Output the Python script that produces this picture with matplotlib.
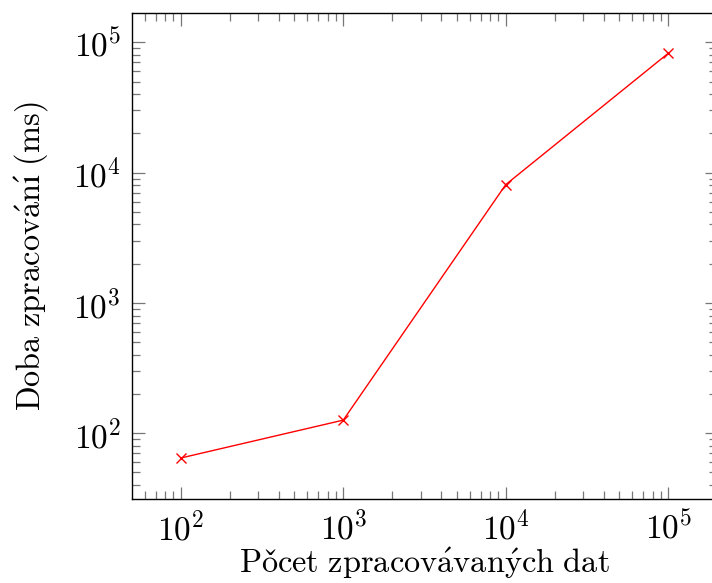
import matplotlib
matplotlib.use("Agg")
import matplotlib.pyplot as plt
from matplotlib.ticker import LogLocator, NullFormatter

plt.rcParams['font.family'] = ['cmr10', 'DejaVu Serif']
plt.rcParams['mathtext.fontset'] = 'cm'
plt.rcParams['axes.formatter.use_mathtext'] = True

x_vals = [100, 1000, 10000, 100000]
y_vals = [64.5, 126, 8090, 82400]
x_label = r"$\mathrm{Po\check{c}et\ zpracov\acute{a}van\acute{y}ch\ dat}$"
y_label = r"$\mathrm{Doba\ zpracov\acute{a}n\acute{ı}\ (ms)}$"

fig = plt.figure(figsize=(7.12, 5.83), dpi=100)
ax = fig.add_axes([132/712, 84/583, (717-132)/712, (499-13)/583])
ax.plot(x_vals, y_vals, color='red', lw=1.0, marker='x', ms=7, mew=1.0)
ax.set_xscale('log')
ax.set_yscale('log')
ax.set_xlim(10**1.7, 10**5.3)
ax.set_ylim(10**1.495, 10**5.225)

for s in ax.spines.values():
    s.set_linewidth(1.0)
    s.set_color('black')

ax.xaxis.set_major_locator(LogLocator(base=10, numticks=10))
ax.yaxis.set_major_locator(LogLocator(base=10, numticks=10))
ax.xaxis.set_minor_locator(LogLocator(base=10, subs=range(2, 10), numticks=20))
ax.yaxis.set_minor_locator(LogLocator(base=10, subs=range(2, 10), numticks=20))
ax.xaxis.set_minor_formatter(NullFormatter())
ax.yaxis.set_minor_formatter(NullFormatter())

ax.tick_params(which='both', direction='in', top=True, right=True, color='#777777', width=0.9)
ax.tick_params(which='major', length=9, labelsize=24, pad=8)
ax.tick_params(which='minor', length=6)

ax.set_xlabel(x_label, fontsize=23.3, labelpad=0)
ax.set_ylabel(y_label, fontsize=23.3, labelpad=16)

fig.savefig("out.png", dpi=100)
